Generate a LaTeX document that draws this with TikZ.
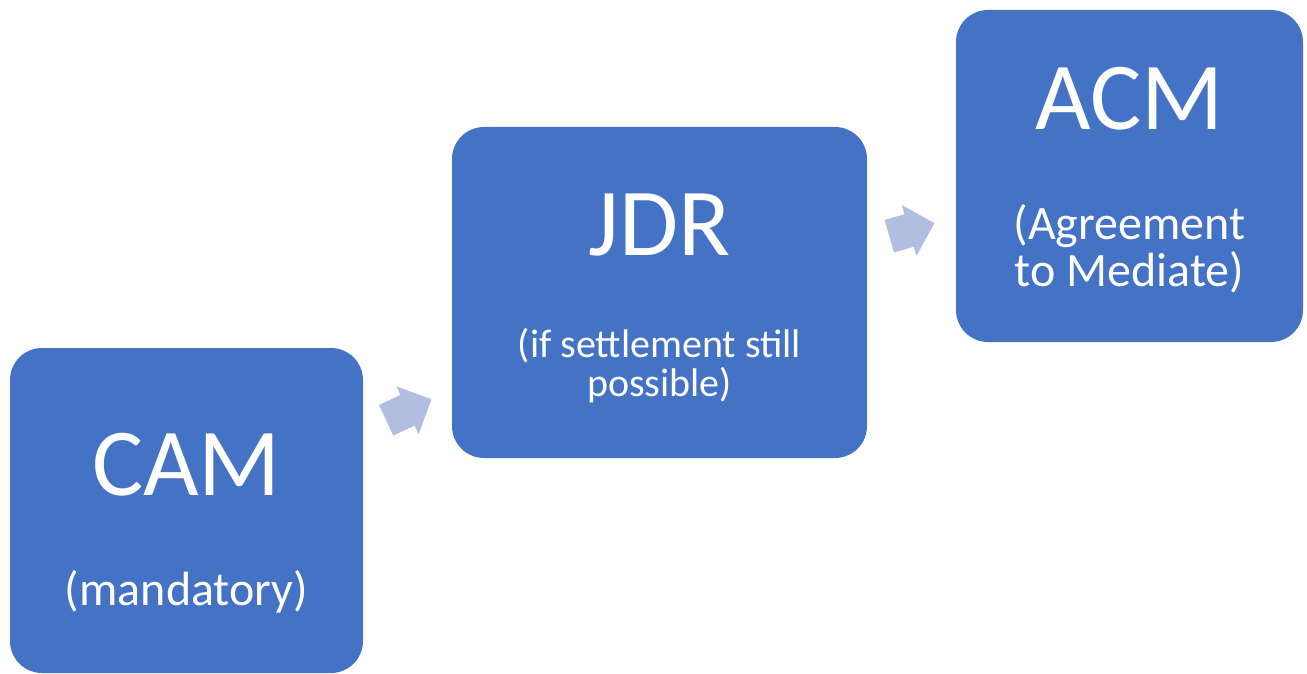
\documentclass[tikz,border=0pt]{standalone}
\usepackage{fontspec}
\setmainfont{Carlito}
\usepackage{tikz}
\usetikzlibrary{shapes.arrows,positioning}
\definecolor{stepblue}{RGB}{68,114,196}
\definecolor{arrowC}{RGB}{177,189,225}

\tikzset{
  stagebox/.style={rectangle, fill=stepblue, draw=none, rounded corners=16pt, inner sep=0pt},
  titletext/.style={text=white, anchor=base, font=\fontsize{48}{52}\selectfont},
  subtext/.style={text=white, anchor=base, align=center, font=\fontsize{24}{22.5}\selectfont},
  steparrow/.style={single arrow, fill=arrowC, draw=none, inner xsep=0pt, inner ysep=8.25pt,
    single arrow head extend=4.75pt, single arrow tip angle=90, anchor=tip}
}

\begin{document}
\begin{tikzpicture}[x=0.5pt, y=-0.5pt]
\useasboundingbox (0,0) rectangle (1307,674);
% three stages, stepping up
\node[stagebox, minimum width=176.5pt, minimum height=162.5pt] (cam) at (186.5,510.5) {};
\node[stagebox, minimum width=207.5pt, minimum height=165.5pt] (jdr) at (659.5,292.5) {};
\node[stagebox, minimum width=173.5pt, minimum height=166pt] (acm) at (1129.5,176) {};
% labels (base of a two-line label is its last line)
\node[titletext] (camT) at (186.5,495) {CAM};
\node[subtext] (camS) at (186.5,605) {(mandatory)};
\node[titletext] (jdrT) at (659.5,255) {JDR};
\node[subtext, font=\fontsize{20}{19.5}\selectfont] (jdrS) at (659.5,396) {(if settlement still\\possible)};
\node[titletext] (acmT) at (1129.5,130) {ACM};
\node[subtext, font=\fontsize{24}{23.5}\selectfont] (acmS) at (1129.5,286) {(Agreement\\to Mediate)};
% arrows between stages
\node[steparrow, minimum height=25pt, rotate=24.8] (arr1) at (432,399) {};
\node[steparrow, minimum height=23.5pt, rotate=16.1] (arr2) at (935,223) {};
\end{tikzpicture}
\end{document}
